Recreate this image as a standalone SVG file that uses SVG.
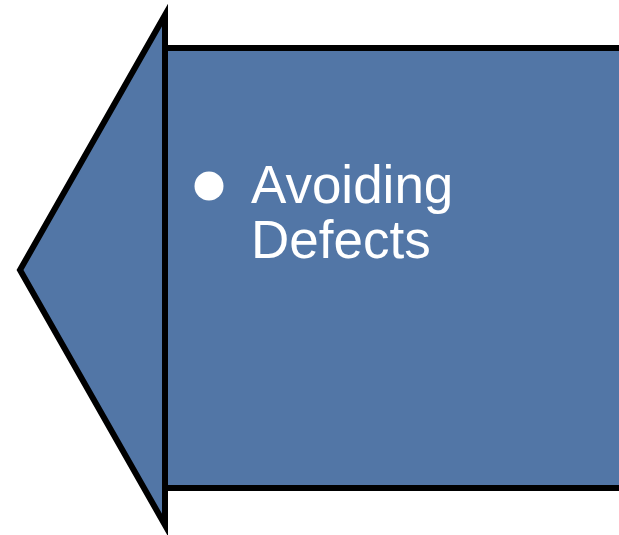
<svg xmlns="http://www.w3.org/2000/svg" width="619" height="535" viewBox="0 0 619 535">
<style>
.shape{fill:#5276a6;stroke:#000;stroke-width:6;stroke-linejoin:miter}
.txt{font-family:"Liberation Sans",Arial,sans-serif;font-size:53px;fill:#fff}
</style>
<rect width="619" height="535" fill="#fff"/>
<g id="arrow">
<polygon class="shape" points="165,15 20,270 165,525"/>
<rect class="shape" x="165" y="48" width="480" height="440"/>
</g>
<g id="label">
<circle cx="209" cy="186" r="14.5" fill="#fff"/>
<text class="txt" x="251" y="203">Avoiding</text>
<text class="txt" x="251" y="258">Defects</text>
</g>
</svg>
